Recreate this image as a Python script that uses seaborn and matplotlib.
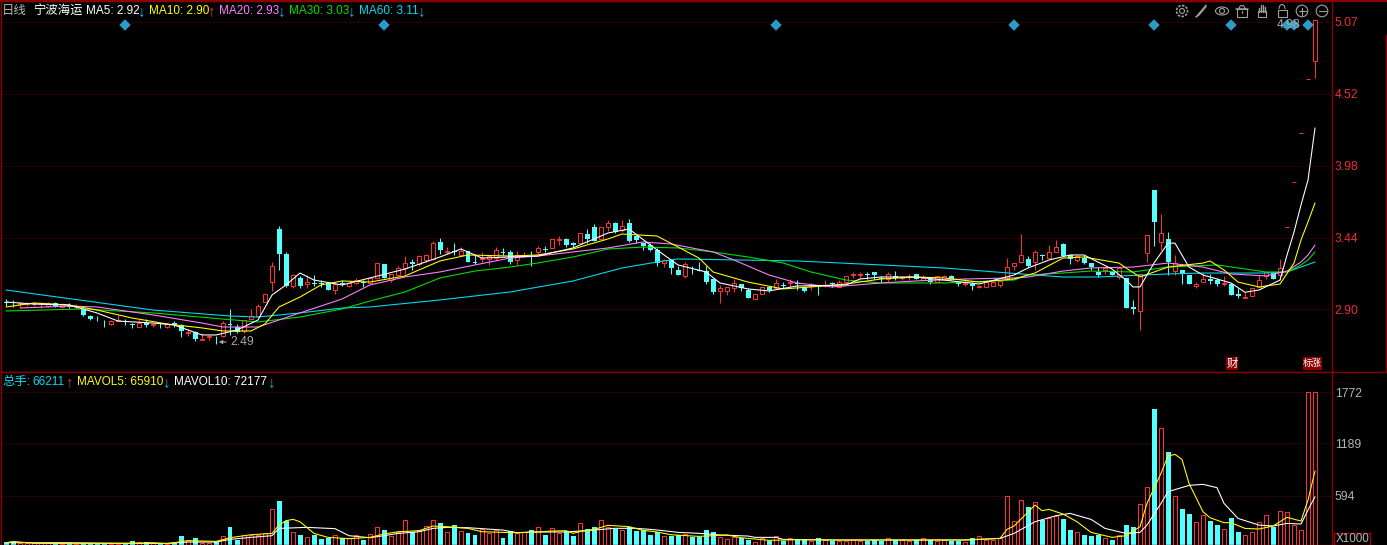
import numpy as np
import pandas as pd
import matplotlib
matplotlib.use("Agg")
import matplotlib.pyplot as plt
from matplotlib.patches import Circle, Ellipse, Rectangle, Arc
import seaborn as sns

open_ = [2.96,2.96,2.94,2.94,2.94,2.94,2.93,2.95,2.92,2.93,
 2.92,2.90,2.85,2.83,2.80,2.79,2.81,2.80,2.79,2.77,
 2.80,2.78,2.77,2.77,2.80,2.78,2.725,2.73,2.67,2.695,
 2.695,2.70,2.79,2.77,2.74,2.83,2.85,2.96,3.11,3.51,
 3.32,3.08,3.135,3.09,3.10,3.10,3.10,3.05,3.10,3.08,
 3.10,3.11,3.10,3.135,3.24,3.12,3.16,3.21,3.26,3.24,
 3.27,3.28,3.41,3.33,3.34,3.31,3.34,3.26,3.28,3.28,
 3.285,3.33,3.33,3.27,3.30,3.335,3.335,3.355,3.365,3.425,
 3.43,3.40,3.405,3.47,3.52,3.435,3.52,3.555,3.50,3.55,
 3.455,3.40,3.385,3.35,3.25,3.27,3.20,3.155,3.215,3.195,
 3.19,3.13,3.04,3.04,3.06,3.09,3.05,2.98,3.02,3.07,
 3.065,3.085,3.10,3.10,3.07,3.08,3.075,3.075,3.10,3.07,
 3.11,3.16,3.16,3.165,3.18,3.135,3.13,3.155,3.14,3.15,
 3.165,3.12,3.13,3.11,3.13,3.15,3.11,3.095,3.09,3.07,
 3.07,3.08,3.085,3.135,3.23,3.26,3.28,3.26,3.31,3.29,
 3.335,3.395,3.31,3.275,3.29,3.25,3.185,3.20,3.19,3.145,
 3.14,2.92,2.885,3.325,3.80,3.41,3.43,3.19,3.20,3.16,
 3.08,3.11,3.13,3.12,3.095,3.095,3.015,2.99,3.005,3.07,
 3.155,3.175,3.16,3.52,3.86,4.23,4.64,4.77]
close = [2.95,2.955,2.95,2.95,2.95,2.95,2.95,2.93,2.94,2.92,
 2.93,2.86,2.83,2.825,2.795,2.81,2.82,2.795,2.78,2.80,
 2.78,2.79,2.765,2.79,2.78,2.74,2.73,2.68,2.68,2.70,
 2.69,2.80,2.78,2.73,2.82,2.85,2.93,3.015,3.23,3.32,
 3.08,3.16,3.08,3.11,3.095,3.09,3.05,3.09,3.095,3.10,
 3.12,3.10,3.135,3.25,3.14,3.165,3.21,3.25,3.24,3.30,
 3.31,3.40,3.35,3.34,3.335,3.34,3.26,3.25,3.285,3.30,
 3.35,3.325,3.26,3.31,3.31,3.33,3.36,3.35,3.43,3.43,
 3.39,3.385,3.48,3.435,3.42,3.52,3.555,3.485,3.53,3.42,
 3.425,3.38,3.345,3.25,3.27,3.21,3.16,3.24,3.21,3.19,
 3.11,3.035,3.06,3.07,3.10,3.06,2.99,3.02,3.07,3.05,
 3.10,3.08,3.105,3.095,3.04,3.085,3.07,3.08,3.095,3.105,
 3.15,3.165,3.165,3.16,3.16,3.13,3.165,3.14,3.145,3.155,
 3.13,3.14,3.11,3.15,3.15,3.12,3.09,3.10,3.08,3.075,
 3.11,3.105,3.115,3.22,3.25,3.31,3.23,3.33,3.305,3.33,
 3.37,3.305,3.28,3.30,3.25,3.22,3.16,3.215,3.16,3.21,
 2.91,2.90,3.165,3.465,3.56,3.48,3.255,3.25,3.17,3.095,
 3.09,3.13,3.115,3.09,3.10,3.01,3.00,2.995,3.065,3.12,
 3.185,3.13,3.21,3.52,3.86,4.23,4.64,5.08]
high = [2.98,2.97,2.96,2.96,2.96,2.96,2.96,2.96,2.95,2.95,
 2.94,2.91,2.86,2.85,2.82,2.82,2.86,2.83,2.80,2.82,
 2.83,2.80,2.80,2.80,2.81,2.79,2.75,2.74,2.72,2.71,
 2.70,2.81,2.90,2.79,2.82,2.90,2.94,3.02,3.26,3.53,
 3.33,3.17,3.15,3.16,3.16,3.12,3.10,3.11,3.12,3.10,
 3.135,3.12,3.14,3.25,3.24,3.17,3.23,3.30,3.28,3.31,
 3.32,3.42,3.44,3.37,3.40,3.37,3.34,3.31,3.33,3.30,
 3.37,3.36,3.35,3.34,3.335,3.34,3.38,3.38,3.43,3.455,
 3.44,3.41,3.48,3.505,3.545,3.52,3.575,3.56,3.575,3.58,
 3.46,3.40,3.405,3.36,3.28,3.28,3.23,3.255,3.23,3.255,
 3.23,3.13,3.085,3.07,3.13,3.09,3.06,3.02,3.07,3.08,
 3.13,3.11,3.13,3.12,3.08,3.10,3.08,3.12,3.11,3.125,
 3.15,3.185,3.185,3.185,3.18,3.15,3.18,3.19,3.155,3.165,
 3.17,3.16,3.13,3.155,3.16,3.16,3.11,3.13,3.105,3.085,
 3.11,3.105,3.115,3.29,3.25,3.47,3.30,3.35,3.32,3.39,
 3.425,3.405,3.31,3.31,3.31,3.25,3.22,3.215,3.19,3.21,
 3.14,2.97,3.165,3.465,3.80,3.62,3.485,3.31,3.20,3.16,
 3.105,3.175,3.165,3.135,3.15,3.095,3.06,3.03,3.065,3.16,
 3.185,3.18,3.28,3.52,3.86,4.23,4.64,5.08]
low = [2.93,2.92,2.92,2.93,2.93,2.91,2.92,2.92,2.91,2.91,
 2.90,2.85,2.82,2.81,2.77,2.78,2.81,2.78,2.76,2.77,
 2.77,2.77,2.76,2.76,2.77,2.69,2.70,2.66,2.67,2.67,
 2.64,2.69,2.71,2.72,2.72,2.83,2.85,2.96,3.04,3.20,
 3.07,3.06,3.06,3.06,3.08,3.07,3.05,3.02,3.08,3.07,
 3.09,3.07,3.10,3.13,3.14,3.11,3.15,3.17,3.20,3.23,
 3.26,3.27,3.32,3.32,3.31,3.30,3.26,3.24,3.26,3.235,
 3.27,3.31,3.24,3.235,3.30,3.23,3.32,3.33,3.36,3.39,
 3.37,3.37,3.40,3.405,3.42,3.43,3.495,3.48,3.485,3.41,
 3.40,3.345,3.34,3.23,3.22,3.165,3.16,3.14,3.17,3.19,
 3.09,3.02,2.95,3.01,3.035,3.04,2.99,2.98,3.02,3.035,
 3.06,3.06,3.07,3.05,3.03,3.05,3.01,3.07,3.07,3.07,
 3.10,3.135,3.14,3.13,3.13,3.11,3.11,3.12,3.12,3.12,
 3.13,3.12,3.09,3.11,3.13,3.12,3.08,3.08,3.05,3.06,
 3.07,3.08,3.07,3.12,3.20,3.25,3.22,3.20,3.27,3.28,
 3.33,3.30,3.245,3.26,3.24,3.20,3.145,3.17,3.16,3.13,
 2.91,2.865,2.745,3.26,3.38,3.345,3.16,3.16,3.09,3.09,
 3.065,3.11,3.095,3.075,3.075,3.01,2.985,2.99,3.005,3.07,
 3.13,3.13,3.12,3.52,3.86,4.23,4.64,4.648]
volume = [62,69,58,51,51,54,58,51,47,51,
 43,51,51,47,43,47,47,51,77,69,
 62,54,54,47,51,134,89,107,51,58,
 62,134,237,89,146,146,146,164,438,533,
 305,176,146,119,146,100,115,146,115,107,
 146,89,157,233,202,138,183,316,176,202,
 248,316,278,176,259,191,164,146,214,164,
 202,111,191,165,176,203,233,146,222,165,
 191,134,278,214,237,313,233,218,199,233,
 191,199,146,184,134,134,142,157,127,127,
 199,180,119,96,119,115,89,62,108,81,
 130,77,108,96,96,81,108,89,81,81,
 81,92,81,73,85,77,115,92,89,73,
 92,115,89,81,85,73,81,70,108,130,
 89,89,115,586,301,540,464,525,313,343,
 362,328,202,176,146,134,146,107,89,142,
 259,237,495,689,1581,1361,1091,586,442,381,
 290,369,305,259,210,339,180,142,180,290,
 369,240,415,404,256,199,1772,1772]

ma5_i = [0,4,9,13,16,21,24,28,30,33,36,38,40,42,44,48,52,57,62,65,68,72,76,81,86,89,93,96,100,102,106,109,113,120,122,125,130,134,139,144,146,149,152,154,156,158,160,161,162,164,166,167,169,171,175,177,179,182,183,184,185,186,187]
ma5 = [2.957,2.941,2.934,2.874,2.813,2.798,2.783,2.708,2.708,2.745,2.821,3.009,3.085,3.175,3.122,3.085,3.138,3.205,3.296,3.356,3.288,3.296,3.303,3.364,3.477,3.507,3.349,3.236,3.183,3.10,3.055,3.04,3.077,3.085,3.13,3.145,3.145,3.122,3.092,3.16,3.213,3.273,3.311,3.311,3.258,3.205,3.122,3.07,3.07,3.25,3.40,3.40,3.22,3.16,3.10,3.03,3.047,3.122,3.31,3.484,3.688,3.876,4.269]
ma10_i = [0,4,9,13,18,23,28,31,35,37,39,42,45,48,52,57,62,66,72,76,81,86,88,93,96,99,101,106,111,115,120,125,130,134,139,144,147,151,154,159,160,162,166,171,172,174,176,179,182,184,185,186,187]
ma10 = [2.919,2.949,2.934,2.896,2.836,2.791,2.761,2.738,2.738,2.791,2.919,2.994,3.085,3.115,3.107,3.153,3.266,3.311,3.303,3.311,3.356,3.432,3.469,3.454,3.371,3.288,3.183,3.107,3.055,3.07,3.092,3.13,3.145,3.138,3.107,3.13,3.175,3.288,3.296,3.25,3.213,3.145,3.22,3.25,3.266,3.198,3.107,3.07,3.092,3.25,3.424,3.56,3.703]
ma20_i = [2,9,13,21,28,31,36,42,48,52,57,62,67,72,76,81,86,91,95,101,104,109,113,118,125,130,137,144,146,151,155,161,166,171,175,180,183,185,186,187]
ma20 = [2.911,2.926,2.919,2.859,2.798,2.768,2.768,2.874,2.979,3.085,3.145,3.183,3.236,3.288,3.303,3.334,3.364,3.409,3.394,3.334,3.273,3.16,3.10,3.07,3.10,3.115,3.13,3.138,3.145,3.19,3.213,3.22,3.25,3.22,3.168,3.153,3.19,3.258,3.311,3.386]
ma30_i = [0,11,21,31,36,42,48,52,57,62,67,72,76,81,86,91,96,101,106,111,115,120,125,134,144,146,151,155,161,166,173,180,183,185,186,187]
ma30 = [2.889,2.904,2.874,2.828,2.806,2.843,2.904,2.964,3.032,3.138,3.19,3.22,3.251,3.296,3.356,3.371,3.364,3.334,3.296,3.251,3.183,3.122,3.10,3.10,3.122,3.16,3.175,3.19,3.183,3.22,3.236,3.183,3.183,3.236,3.273,3.334]
ma60_i = [0,21,32,36,42,48,52,62,72,81,88,93,96,113,125,134,145,151,156,166,171,180,183,187]
ma60 = [3.047,2.896,2.851,2.843,2.874,2.911,2.919,2.972,3.032,3.115,3.213,3.258,3.281,3.266,3.236,3.213,3.168,3.145,3.145,3.168,3.175,3.175,3.183,3.258]

mavol5_i = [0,1,4,10,18,21,23,26,30,32,35,38,39,40,41,42,44,46,49,52,54,56,59,61,63,66,68,71,73,75,78,80,81,82,84,86,89,91,93,95,99,103,105,109,113,118,137,142,143,144,147,148,149,151,153,155,158,160,162,163,165,166,167,168,169,171,172,174,175,177,179,181,183,185,186,187]
mavol5 = [58,73,51,47,51,58,47,81,73,115,149,164,259,309,324,297,164,119,104,119,157,183,195,248,240,221,183,176,172,176,191,195,165,184,210,256,241,199,180,149,130,146,115,85,92,89,89,107,210,248,487,423,438,385,297,176,119,138,240,506,848,1045,1064,1007,734,411,343,286,286,221,214,248,347,305,544,875]
mavol10_i = [0,9,18,23,26,30,32,35,38,39,43,47,49,52,54,56,59,61,63,66,68,71,73,75,80,84,87,90,92,93,96,99,102,106,107,110,111,118,126,137,142,144,147,150,152,155,157,160,162,163,165,166,169,171,173,174,176,179,181,183,185,186,187]
mavol10 = [58,58,51,51,66,66,96,119,138,221,233,218,138,115,138,164,183,221,233,229,218,202,172,180,180,203,222,222,210,203,176,165,146,134,119,119,96,89,89,89,107,164,297,366,392,324,221,164,176,259,506,639,711,723,685,506,335,259,248,278,271,430,582]

event_i = [17,54,110,144,164,175,183,184,186]
event_y = [5.045]*9
price_ticks = [5.07,4.5275,3.985,3.4425,2.90]
price_labels = ["5.07","4.52","3.98","3.44","2.90"]
vol_ticks = [1772,1189,594]
vol_labels = ["1772","1189","594"]

W, H = 1387, 545
RED = "#ff3030"; CYAN = "#54ffff"; DARK = "#8a0000"; GRID = "#860000"; GRAY = "#b4b4b4"
sns.set_theme(style="dark", rc={"figure.facecolor":"black","axes.facecolor":"black","savefig.facecolor":"black"})
plt.rcParams["font.family"] = ["Liberation Sans","Noto Sans CJK SC","DejaVu Sans"]

fig = plt.figure(figsize=(W/100,H/100),dpi=100)
def axes_px(x0,y0,x1,y1):
    return fig.add_axes([x0/W,1-y1/H,(x1-x0)/W,(y1-y0)/H])
ax = axes_px(1,1,1332,371.7)
vx = axes_px(1,371.7,1332,545)
ovl = fig.add_axes([0,0,1,1],zorder=10)
ovl.set_xlim(0,W); ovl.set_ylim(H,0); ovl.axis("off"); ovl.patch.set_alpha(0)

idx = np.arange(len(close))
o,c,hi,lo = map(np.array,(open_,close,high,low))
up = c>=o
xlim = ((1-6)/7,(1332-6)/7)
df = pd.DataFrame({"i":idx,"vol":volume})

for a in (ax,vx):
    a.set_xlim(*xlim); a.set_xticks([])
    a.set_xlabel(""); a.set_facecolor("black")
    a.yaxis.tick_right()
    a.grid(axis="y",color=GRID,linestyle=(0,(1,3)),linewidth=0.72,zorder=0)
    a.grid(axis="x",visible=False)
    a.set_axisbelow(True)
    for s in a.spines.values():
        s.set_color(DARK); s.set_linewidth(1.0); s.set_visible(True)
    a.tick_params(axis="y",length=0,pad=2,labelsize=8.7)

ax.set_ylim(2.431,5.226)
ax.set_yticks(price_ticks); ax.set_yticklabels(price_labels,color="#e83030")
vx.set_ylim(32,2006)
vx.set_yticks(vol_ticks); vx.set_yticklabels(vol_labels,color=GRAY)

# candles
top = np.maximum(o,c); bot = np.minimum(o,c)
ax.vlines(idx[up],top[up],hi[up],color=RED,lw=0.72,zorder=2)
ax.vlines(idx[up],lo[up],bot[up],color=RED,lw=0.72,zorder=2)
ax.vlines(idx[~up],lo[~up],hi[~up],color=CYAN,lw=0.72,zorder=2)
ax.bar(idx[up],(top-bot)[up],bottom=bot[up],width=4/7,facecolor="black",edgecolor=RED,linewidth=0.72,zorder=3)
ax.bar(idx[~up],(top-bot)[~up],bottom=bot[~up],width=5/7,facecolor=CYAN,edgecolor=CYAN,linewidth=0,zorder=3)

for xs,ys,col in [(ma60_i,ma60,"#00dcf0"),(ma30_i,ma30,"#00e000"),(ma20_i,ma20,"#ff80ff"),(ma10_i,ma10,"#ffff00"),(ma5_i,ma5,"#ffffff")]:
    sns.lineplot(x=xs,y=ys,color=col,lw=0.78,ax=ax,estimator=None,sort=False,zorder=4,legend=False,errorbar=None)
sns.scatterplot(x=event_i,y=event_y,marker="D",s=34,color="#2d9ac8",edgecolor="none",ax=ax,zorder=6,legend=False)
ax.set_xlim(*xlim); ax.set_xticks([]); ax.set_xlabel(""); ax.set_ylabel("")

# volume
vu = df[up]; vd = df[~up]
vx.bar(vu["i"],vu["vol"],width=4/7,facecolor="black",edgecolor=RED,linewidth=0.72,zorder=2)
vx.bar(vd["i"],vd["vol"],width=5/7,facecolor=CYAN,edgecolor=CYAN,linewidth=0,zorder=2)
sns.lineplot(x=mavol10_i,y=mavol10,color="#ffffff",lw=0.78,ax=vx,estimator=None,sort=False,zorder=4,legend=False,errorbar=None)
sns.lineplot(x=mavol5_i,y=mavol5,color="#ffff00",lw=0.78,ax=vx,estimator=None,sort=False,zorder=5,legend=False,errorbar=None)
vx.set_xlim(*xlim); vx.set_xticks([]); vx.set_xlabel(""); vx.set_ylabel("")

# header texts
def txt(x,y,s,col,size=8.7,**kw):
    ovl.text(x,y,s,color=col,fontsize=size,va="center",ha=kw.pop("ha","left"),**kw)
txt(2,11,"日线","#b8b8b8",8.9)
txt(33,11,"宁波海运","#ffffff",8.9)
for x,s,col in [(86,"MA5: 2.92","#ffffff"),(149,"MA10: 2.90","#ffff00"),(219,"MA20: 2.93","#ff80ff"),(289,"MA30: 3.03","#00e000"),(359,"MA60: 3.11","#00dcf0")]:
    txt(x,11,s,col,8.5)
for x,s,col in [(142,"↓","#30b0e0"),(212,"↑","#ff3030"),(282,"↓","#30b0e0"),(352,"↓","#30b0e0"),(422,"↓","#30b0e0")]:
    txt(x,11.5,s,col,11,ha="center")
txt(2,382,"总手:","#00dcf0",8.9)
txt(32,382,"66211","#00dcf0",8.5)
txt(70,382.5,"↑","#ff3030",11,ha="center")
txt(77,382,"MAVOL5: 65910","#ffff00",8.5)
txt(167,382.5,"↓","#30b0e0",11,ha="center")
txt(174,382,"MAVOL10: 72177","#ffffff",8.5)
txt(271.5,382.5,"↓","#30b0e0",11,ha="center")

# small labels
txt(230,342,"2.49","#a8a8a8")
ovl.annotate("",xy=(216,342),xytext=(229,342),arrowprops=dict(arrowstyle="-|>",color="#a8a8a8",lw=0.8,mutation_scale=5))
ovl.text(1277,25,"4.98",color="#a8a8a8",fontsize=8.7,va="center",zorder=1)
ovl.add_patch(Rectangle((1226,357),12,13,facecolor="#8a0000",edgecolor="none"))
ovl.add_patch(Rectangle((1303,357),19,13,facecolor="#8a0000",edgecolor="none"))
txt(1232,363.5,"财","#ffffff",8.2,ha="center")
txt(1312.5,363.5,"标涨","#ffffff",6.8,ha="center")
ovl.add_patch(Rectangle((1333.5,533),36,11.5,facecolor="black",edgecolor="#a00000",lw=1))
txt(1336,539.5,"X1000",GRAY,8.4)
ovl.plot([1335,1350],[382,382],color=GRID,lw=0.72,ls=(0,(1,3)))
ovl.plot([1386,1386],[35,372],color=DARK,lw=1)
ovl.plot([1332,1386],[371.7,371.7],color=DARK,lw=1)
ovl.plot([0,W],[0.5,0.5],color=DARK,lw=1.6)

# toolbar icons
ic = "#a0a0a0"; lw = 0.8
def P(p): ovl.add_patch(p)
P(Circle((1182,11),5.5,fill=False,ec=ic,lw=1.2,ls=(0,(1.5,0.8)))); P(Circle((1182,11),2.5,fill=False,ec=ic,lw=lw))
ovl.plot([1196,1206,1206,1199,1196],[17,5,7,15,17],color=ic,lw=lw)
P(Ellipse((1222,11),13,8,fill=False,ec=ic,lw=lw)); P(Circle((1222,11),2.5,fill=False,ec=ic,lw=lw))
P(Rectangle((1237,9),10,8,fill=False,ec=ic,lw=lw)); ovl.plot([1236,1248],[9,9],color=ic,lw=lw+.3); P(Arc((1242,9),6,7,theta1=180,theta2=360,ec=ic,lw=lw)); ovl.plot([1242,1242],[11,13],color=ic,lw=lw)
for xx,t in [(1258.5,8),(1260.8,5),(1263,5),(1265.3,7)]:
    ovl.plot([xx,xx],[t,12],color=ic,lw=lw+.2)
P(Rectangle((1258,11),8,6,fill=False,ec=ic,lw=lw))
P(Rectangle((1277.5,10),9,7,fill=False,ec=ic,lw=lw)); P(Arc((1282,9),6,9,theta1=180,theta2=360,ec=ic,lw=lw))
P(Circle((1302,11),5.8,fill=False,ec=ic,lw=lw)); ovl.plot([1298.5,1305.5],[11,11],color=ic,lw=lw); ovl.plot([1302,1302],[7.5,14.5],color=ic,lw=lw)
P(Circle((1322,11),5.8,fill=False,ec=ic,lw=lw)); ovl.plot([1318.5,1325.5],[11,11],color=ic,lw=lw)

fig.savefig("out.png",dpi=100,facecolor="black")
